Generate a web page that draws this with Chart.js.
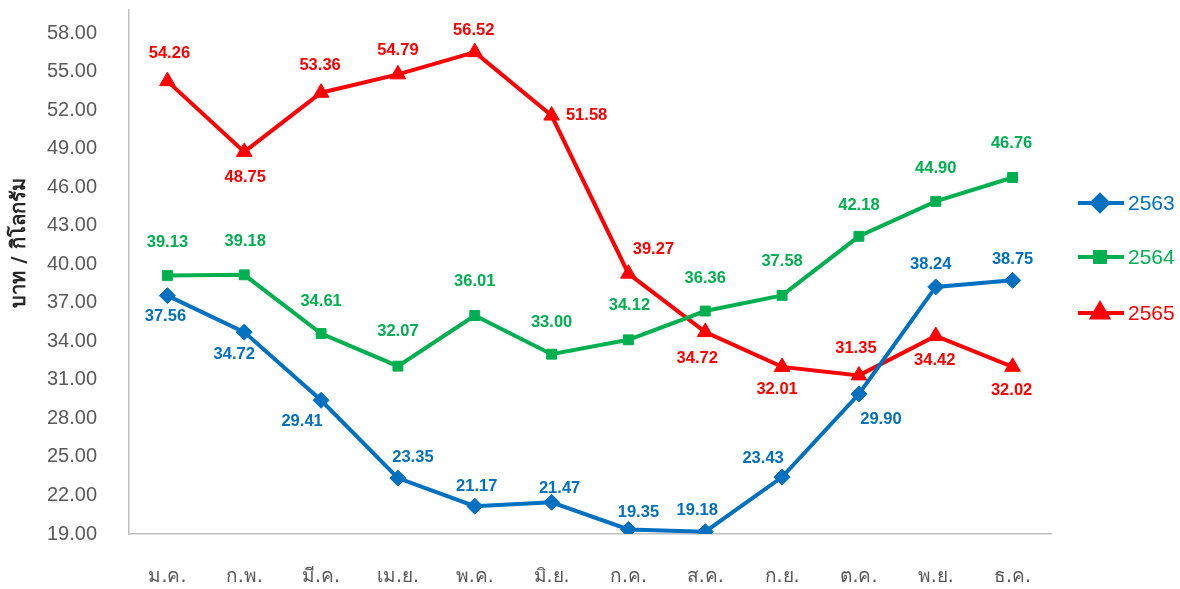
<!DOCTYPE html>
<html>
<head>
<meta charset="utf-8">
<script src="https://cdn.jsdelivr.net/npm/chart.js@4/dist/chart.umd.min.js"></script>
<style>
  html, body { margin: 0; padding: 0; background: #fff; }
  #wrap { width: 1180px; height: 589px; }
</style>
</head>
<body>
<div id="wrap"><canvas id="priceChart"></canvas></div>
<script>
// ข้อมูลราคา (บาท / กิโลกรัม)
const months = ['ม.ค.', 'ก.พ.', 'มี.ค.', 'เม.ย.', 'พ.ค.', 'มิ.ย.', 'ก.ค.', 'ส.ค.', 'ก.ย.', 'ต.ค.', 'พ.ย.', 'ธ.ค.'];
const years = ['2563', '2564', '2565'];
const price2563 = [37.56, 34.72, 29.41, 23.35, 21.17, 21.47, 19.35, 19.18, 23.43, 29.90, 38.24, 38.75];
const price2564 = [39.13, 39.18, 34.61, 32.07, 36.01, 33.00, 34.12, 36.36, 37.58, 42.18, 44.90, 46.76];
const price2565 = [54.26, 48.75, 53.36, 54.79, 56.52, 51.58, 39.27, 34.72, 32.01, 31.35, 34.42, 32.02];
const yMin = 19, yMax = 58, yStep = 3;
const yTitle = 'บาท / กิโลกรัม';

// ตำแหน่งป้ายตัวเลข (dx, dy จากจุด)
const labelPos2563 = [[-2,21],[-10,22],[-19,21],[15,-21],[2,-20],[8,-14],[10,-17],[-8,-21],[-19,-19],[22,25],[-5,-22],[0,-21]];
const labelPos2564 = [[0,-33],[1,-33],[0,-32],[0,-35],[0,-34],[0,-32],[1,-34],[0,-33],[0,-34],[0,-31],[0,-33],[-1,-34]];
const labelPos2565 = [[2,-28],[1,26],[-1,-27],[0,-24],[-1,-22],[35,0],[25,-24],[-8,26],[-5,23],[-3,-27],[-1,24],[-1,24]];

const colors = ['#0070C0', '#00B050', '#FF0000'];
const styles = ['rectRot', 'rect', 'triangle'];
const radii = [8, 7, 9];

// ป้ายตัวเลขบนจุด
const valueLabels = {
    id: 'valueLabels',
    afterDatasetsDraw(chart) {
        const ctx = chart.ctx;
        const allPos = [labelPos2563, labelPos2564, labelPos2565];
        ctx.save();
        ctx.font = 'bold 16.5px "Liberation Sans", Arial, sans-serif';
        ctx.textAlign = 'center';
        ctx.textBaseline = 'middle';
        chart.data.datasets.forEach((ds, i) => {
            const meta = chart.getDatasetMeta(i);
            ctx.fillStyle = ds.borderColor;
            meta.data.forEach((pt, j) => {
                const p = allPos[i][j];
                ctx.fillText(ds.data[j].toFixed(2), pt.x + p[0], pt.y + p[1]);
            });
        });
        ctx.restore();
    }
};

// ชื่อแกนตั้ง
const axisTitle = {
    id: 'axisTitle',
    afterDraw(chart) {
        const ctx = chart.ctx;
        ctx.save();
        ctx.translate(20, 243);
        ctx.rotate(-Math.PI / 2);
        ctx.font = 'bold 20px Tahoma, "DejaVu Sans", sans-serif';
        ctx.fillStyle = '#262626';
        ctx.textAlign = 'center';
        ctx.textBaseline = 'middle';
        ctx.fillText(yTitle, 0, 0);
        ctx.restore();
    }
};

// คำอธิบายสัญลักษณ์ด้านขวา
const sideLegend = {
    id: 'sideLegend',
    afterDraw(chart) {
        const ctx = chart.ctx;
        const rowsY = [203, 257, 313];
        ctx.save();
        chart.data.datasets.forEach((ds, i) => {
            const y = rowsY[i];
            ctx.strokeStyle = ds.borderColor;
            ctx.fillStyle = ds.borderColor;
            ctx.lineWidth = 4;
            ctx.beginPath();
            ctx.moveTo(1078, y);
            ctx.lineTo(1124, y);
            ctx.stroke();
            Chart.helpers.drawPoint(ctx, {
                pointStyle: ds.pointStyle,
                radius: ds.pointRadius,
                rotation: 0,
                borderWidth: 1
            }, 1100, y);
            ctx.font = '21px "Liberation Sans", Arial, sans-serif';
            ctx.textAlign = 'left';
            ctx.textBaseline = 'middle';
            ctx.fillText(ds.label, 1128, y + 1);
        });
        ctx.restore();
    }
};

const seriesData = [price2563, price2564, price2565];

const ctx = document.getElementById('priceChart').getContext('2d');
const priceChart = new Chart(ctx, {
    type: 'line',
    data: {
        labels: months,
        datasets: years.map((y, i) => ({
            label: y,
            data: seriesData[i],
            borderColor: colors[i],
            backgroundColor: colors[i],
            borderWidth: 4,
            tension: 0,
            pointStyle: styles[i],
            pointRadius: radii[i],
            pointHoverRadius: radii[i],
            pointBorderWidth: 1
        }))
    },
    options: {
        responsive: true,
        maintainAspectRatio: false,
        animation: false,
        layout: { padding: { top: 10, right: 129, left: 0, bottom: 0 } },
        plugins: {
            legend: { display: false },
            tooltip: { enabled: false }
        },
        scales: {
            x: {
                offset: true,
                grid: { display: false, drawTicks: false },
                border: { display: true, color: '#BFBFBF', width: 1.5 },
                ticks: {
                    color: '#595959',
                    padding: 32,
                    font: { size: 19, family: 'Tahoma, "DejaVu Sans", sans-serif' }
                },
                afterFit: s => { s.height = 55; s.paddingLeft = 0; s.paddingRight = 0; }
            },
            y: {
                min: yMin,
                max: 59.8,
                grid: { display: false, drawTicks: false },
                border: { display: true, color: '#BFBFBF', width: 1.5 },
                ticks: {
                    color: '#595959',
                    padding: 32,
                    font: { size: 20, family: '"Liberation Sans", Arial, sans-serif' },
                    callback: v => v.toFixed(2)
                },
                afterBuildTicks: s => {
                    const t = [];
                    for (let v = yMin; v <= yMax; v += yStep) t.push({ value: v });
                    s.ticks = t;
                },
                afterFit: s => { s.width = 129; s.paddingTop = 0; s.paddingBottom = 0; }
            }
        }
    },
    plugins: [valueLabels, axisTitle, sideLegend]
});
</script>
</body>
</html>
